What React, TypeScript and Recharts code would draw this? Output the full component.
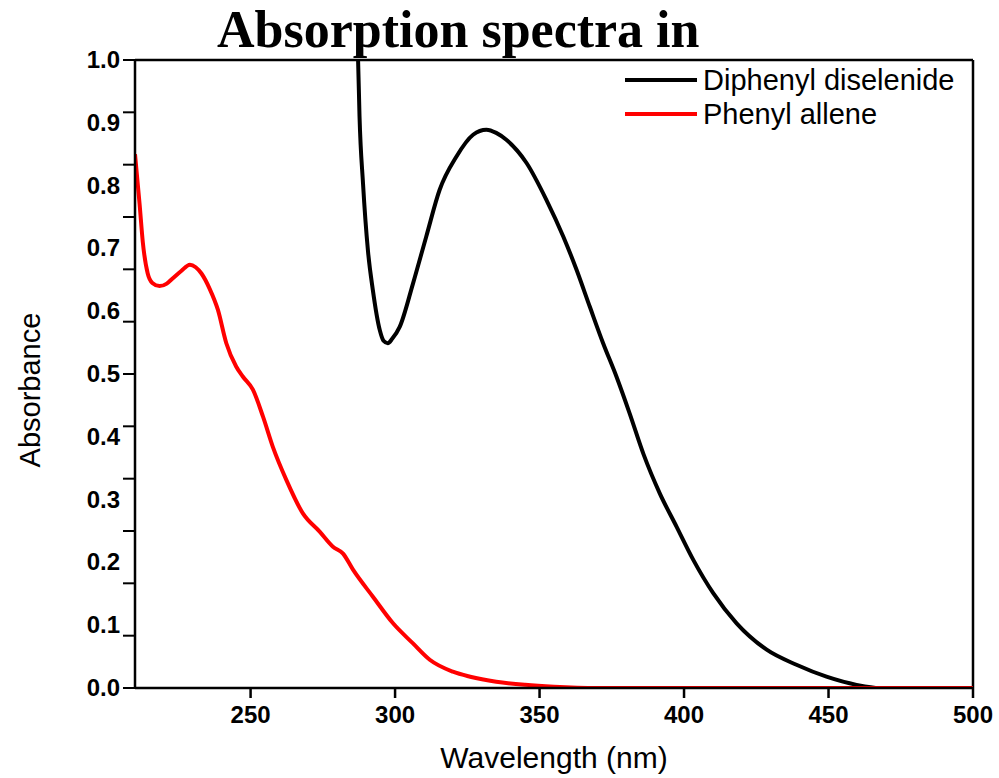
import React from "react";
import { LineChart, Line, XAxis, YAxis, ReferenceLine, Legend } from "recharts";

// 红线: Phenyl allene
const alleneNm = [210, 211.6, 212.7, 214.4, 216, 218.5, 221, 223, 226, 229, 231, 233, 235.8, 238.7, 241.6, 245, 247.3, 250.8, 254.3, 257.7, 262.4, 268.1, 273.9, 278.5, 282, 285.5, 292.4, 299.3, 306.2, 312, 320, 326, 335, 345, 355, 370, 400, 450, 500];
const alleneAbs = [0.85, 0.77, 0.71, 0.66, 0.645, 0.64, 0.644, 0.652, 0.664, 0.674, 0.67, 0.66, 0.636, 0.602, 0.549, 0.512, 0.496, 0.475, 0.432, 0.384, 0.331, 0.278, 0.249, 0.225, 0.214, 0.188, 0.145, 0.103, 0.071, 0.045, 0.026, 0.018, 0.01, 0.005, 0.002, 0, 0, 0, 0];

// 黑线: Diphenyl diselenide
const selenideNm = [285, 287.2, 287.7, 288.9, 290.6, 292.3, 294.7, 296, 297.5, 299, 301.6, 306.2, 310.8, 315.4, 321.2, 327, 331.6, 335, 338.5, 345.5, 352.4, 358.2, 362.8, 367.4, 372, 376.6, 381.2, 386, 391.6, 397.4, 403.2, 410.1, 418.2, 428.6, 438.9, 449.3, 459.7, 467.8, 480, 500];
const selenideAbs = [1.15, 1.0, 0.91, 0.804, 0.697, 0.634, 0.57, 0.553, 0.549, 0.556, 0.575, 0.644, 0.719, 0.793, 0.846, 0.881, 0.889, 0.884, 0.873, 0.836, 0.777, 0.719, 0.666, 0.607, 0.549, 0.496, 0.437, 0.372, 0.31, 0.257, 0.204, 0.151, 0.103, 0.061, 0.037, 0.018, 0.005, 0, 0, 0];

const xTicks = [250, 300, 350, 400, 450, 500];
const yLabels = [0, 0.1, 0.2, 0.3, 0.4, 0.5, 0.6, 0.7, 0.8, 0.9, 1.0];
const yTickMarks = [0, 0.0833, 0.1667, 0.25, 0.3333, 0.4167, 0.5, 0.5833, 0.6667, 0.75, 0.8333, 0.9167, 1.0];

const alleneData = alleneNm.map((x, i) => ({ x, y: alleneAbs[i] }));
const selenideData = selenideNm.map((x, i) => ({ x, y: selenideAbs[i] }));

const sans = "'Liberation Sans', Arial, sans-serif";
const leftTicks = Array.from(new Set([...yLabels, ...yTickMarks])).sort((a, b) => a - b);
const near = (v: number, list: number[]) => list.some((t) => Math.abs(t - v) < 0.001);

function LeftTick(props: any) {
    const { x, y, payload } = props;
    const v = payload.value;
    return (
        <g>
            {near(v, yTickMarks) && <line x1={x} x2={x + 12} y1={y} y2={y} stroke="#000" strokeWidth={2} />}
            {near(v, yLabels) && (
                <text x={x - 3} y={y} dy={8} textAnchor="end" fontFamily={sans} fontWeight="bold" fontSize={24} fill="#000">
                    {v.toFixed(1)}
                </text>
            )}
        </g>
    );
}

function LegendBox({ payload }: any) {
    return (
        <div style={{ fontFamily: sans, fontSize: 29, lineHeight: "34px" }}>
            {(payload || []).map((p: any) => (
                <div key={p.value} style={{ display: "flex", alignItems: "center" }}>
                    <span style={{ display: "inline-block", width: 72, height: 4, background: p.color, marginRight: 6 }} />
                    <span>{p.value}</span>
                </div>
            ))}
        </div>
    );
}

export default function App() {
    return (
        <div style={{ position: "absolute", left: 0, top: 0, width: 999, height: 778, background: "#fff" }}>
            <LineChart width={999} height={778} margin={{ top: 60, right: 0, bottom: 0, left: 0 }}>
                <XAxis
                    dataKey="x"
                    type="number"
                    domain={[210, 500]}
                    ticks={xTicks}
                    allowDataOverflow
                    height={90}
                    stroke="#000"
                    strokeWidth={2.5}
                    tickSize={10}
                    tickMargin={8}
                    tick={{ fill: "#000", fontFamily: sans, fontWeight: "bold", fontSize: 24 }}
                    label={{ value: "Wavelength (nm)", position: "insideBottom", offset: 10, fill: "#000", fontFamily: sans, fontSize: 30 }}
                />
                <YAxis
                    type="number"
                    domain={[0, 1]}
                    allowDataOverflow
                    ticks={leftTicks}
                    interval={0}
                    width={135}
                    tickSize={12}
                    tickMargin={0}
                    tickLine={false}
                    stroke="#000"
                    strokeWidth={2.5}
                    tick={<LeftTick />}
                    label={{
                        content: () => (
                            <text x={30} y={390} transform="rotate(-90 30 390)" dy={10} textAnchor="middle" fontFamily={sans} fontSize={29} fill="#000">
                                Absorbance
                            </text>
                        ),
                    }}
                />
                <YAxis
                    yAxisId="right"
                    orientation="right"
                    type="number"
                    domain={[0, 1]}
                    ticks={yTickMarks}
                    width={26}
                    tickSize={7}
                    axisLine={false}
                    stroke="#000"
                    tickFormatter={() => ""}
                />
                <ReferenceLine y={1} stroke="#000" strokeWidth={2.5} />
                <ReferenceLine x={500} stroke="#000" strokeWidth={2.5} />
                <Legend
                    layout="vertical"
                    verticalAlign="middle"
                    align="center"
                    wrapperStyle={{ position: "absolute", top: 63, left: 625, width: 360 }}
                    content={<LegendBox />}
                />
                <Line data={selenideData} dataKey="y" name="Diphenyl diselenide" type="monotone" stroke="#000" strokeWidth={4} dot={false} isAnimationActive={false} />
                <Line data={alleneData} dataKey="y" name="Phenyl allene" type="monotone" stroke="#ff0000" strokeWidth={4} dot={false} isAnimationActive={false} />
            </LineChart>
            <div
                style={{
                    position: "absolute",
                    left: 217,
                    top: 4,
                    fontFamily: "'Liberation Serif', 'Times New Roman', serif",
                    fontWeight: "bold",
                    fontSize: 52,
                    lineHeight: "52px",
                    whiteSpace: "nowrap",
                }}
            >
                Absorption spectra in
            </div>
        </div>
    );
}
